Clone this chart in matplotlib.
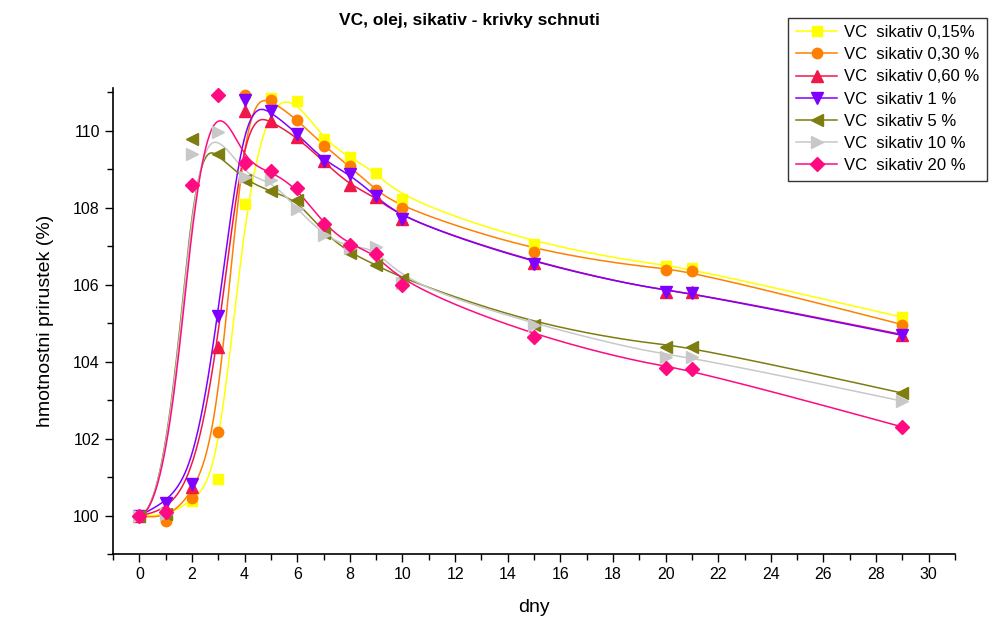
import numpy as np
import matplotlib
matplotlib.use("Agg")
import matplotlib.pyplot as plt
from matplotlib.ticker import MultipleLocator
from matplotlib.lines import Line2D

plt.rcParams['font.family'] = ['Liberation Sans', 'DejaVu Sans']

days = [0, 1, 2, 3, 4, 5, 6, 7, 8, 9, 10, 15, 20, 21, 29]

s015 = [100.0, 99.95, 100.39, 100.96, 108.09, 110.85, 110.77, 109.77, 109.30, 108.91, 108.22, 107.05, 106.47, 106.42, 105.15]
s030 = [100.0, 99.87, 100.46, 102.18, 110.92, 110.80, 110.28, 109.61, 109.07, 108.45, 107.98, 106.85, 106.38, 106.36, 104.96]
s060 = [100.0, 100.10, 100.75, 104.39, 110.50, 110.25, 109.82, 109.20, 108.58, 108.27, 107.70, 106.56, 105.80, 105.80, 104.70]
s1 = [100.0, 100.33, 100.83, 105.17, 110.80, 110.50, 109.92, 109.22, 108.86, 108.29, 107.70, 106.54, 105.81, 105.79, 104.68]
s5 = [100.0, 100.05, 109.77, 109.38, 108.71, 108.42, 108.19, 107.35, 106.82, 106.51, 106.15, 104.95, 104.39, 104.39, 103.18]
s10 = [100.0, 100.05, 109.38, 109.97, 108.80, 108.72, 107.96, 107.29, 106.95, 106.97, 106.05, 104.96, 104.13, 104.13, 102.97]
s20 = [100.0, 100.08, 108.58, 110.93, 109.15, 108.94, 108.50, 107.57, 107.03, 106.80, 106.00, 104.65, 103.82, 103.80, 102.30]

labels = ["VC  sikativ 0,15%", "VC  sikativ 0,30 %", "VC  sikativ 0,60 %", "VC  sikativ 1 %",
          "VC  sikativ 5 %", "VC  sikativ 10 %", "VC  sikativ 20 %"]
series = [s015, s030, s060, s1, s5, s10, s20]
colors = ["#FFFF00", "#FF8000", "#F01848", "#7F00FF", "#7D7D10", "#C8C8C8", "#FF0A80"]
markers = ["s", "o", "^", "v", "<", ">", "D"]
msizes = [7, 7.5, 8.5, 8.5, 8.5, 8.5, 7.5]


def bspline(xs, ys, npts=600):
    """Clamped uniform cubic B-spline using the data points as control points."""
    P = np.column_stack([xs, ys]).astype(float)
    n = len(P)
    k = 3
    inner = np.arange(1, n - k)
    knots = np.concatenate([np.zeros(k + 1), inner, np.full(k + 1, n - k)]).astype(float)
    t = np.linspace(0, n - k, npts)
    t[-1] -= 1e-9

    def basis(i, p, tt):
        if p == 0:
            return ((knots[i] <= tt) & (tt < knots[i + 1])).astype(float)
        d1 = knots[i + p] - knots[i]
        d2 = knots[i + p + 1] - knots[i + 1]
        a = 0.0 if d1 == 0 else (tt - knots[i]) / d1 * basis(i, p - 1, tt)
        b = 0.0 if d2 == 0 else (knots[i + p + 1] - tt) / d2 * basis(i + 1, p - 1, tt)
        return a + b

    C = np.zeros((npts, 2))
    for i in range(n):
        C += basis(i, k, t)[:, None] * P[i]
    return C[:, 0], C[:, 1]


fig = plt.figure(figsize=(9.94, 6.30), dpi=100)
ax = fig.add_axes([0.1137, 0.1206, 0.8471, 0.7394])

handles = []
for ys, c, m, ms, lab in zip(series, colors, markers, msizes, labels):
    cx, cy = bspline(days, ys)
    ax.plot(cx, cy, color=c, lw=1.1, zorder=2)
    ax.plot(days, ys, linestyle='none', marker=m, ms=ms, color=c, mec=c, zorder=3)
    handles.append(Line2D([], [], color=c, lw=1.1, marker=m, ms=ms, mec=c))

ax.set_xlim(-1, 31)
ax.set_ylim(99, 111.1)
ax.xaxis.set_major_locator(MultipleLocator(2))
ax.xaxis.set_minor_locator(MultipleLocator(1))
ax.yaxis.set_major_locator(MultipleLocator(2))
ax.yaxis.set_minor_locator(MultipleLocator(1))
ax.tick_params(which='major', direction='out', length=6, width=1, labelsize=11.5, colors='black')
ax.tick_params(which='minor', direction='out', length=4, width=1)
ax.spines['top'].set_visible(False)
ax.spines['right'].set_visible(False)
ax.spines['left'].set_linewidth(1.2)
ax.spines['bottom'].set_linewidth(1.2)

ax.set_xlabel("dny", fontsize=14, labelpad=12)
ax.set_ylabel("hmotnostni prirustek (%)", fontsize=14, labelpad=14)
fig.text(0.472, 0.968, "VC, olej, sikativ - krivky schnuti", ha='center', va='center',
         fontsize=12.5, fontweight='bold')

leg = fig.legend(handles, labels, loc='upper left', bbox_to_anchor=(0.793, 0.972),
                 fontsize=12, frameon=True, fancybox=False, edgecolor='black',
                 handlelength=2.5, handletextpad=0.4, labelspacing=0.43, borderpad=0.45,
                 borderaxespad=0)
leg.get_frame().set_linewidth(1.0)

fig.savefig("out.png", dpi=100)
